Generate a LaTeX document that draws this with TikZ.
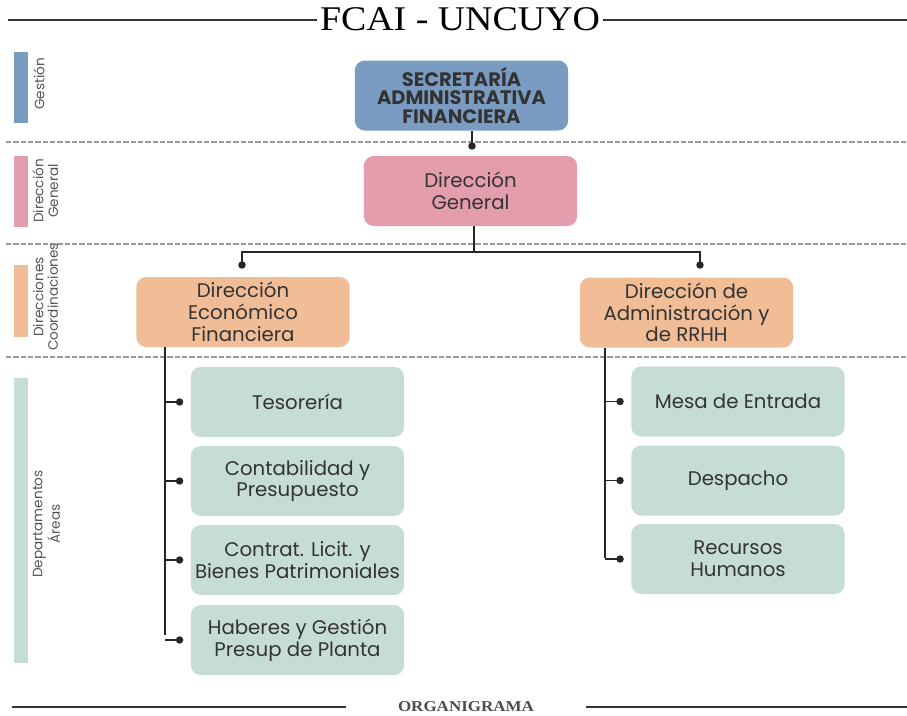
\documentclass[tikz,border=0pt]{standalone}
\usepackage{fontspec}
\setmainfont{Poppins}
\newfontfamily\serifhead{Liberation Serif}
\usetikzlibrary{calc}

\definecolor{gestion}{HTML}{7B9CC2}
\definecolor{dirgen}{HTML}{E39DAD}
\definecolor{dircoord}{HTML}{F1BD96}
\definecolor{depto}{HTML}{C6DDD3}
\definecolor{ink}{HTML}{333333}
\definecolor{sidetext}{HTML}{555555}
\definecolor{sepline}{HTML}{9A9A9A}

\tikzset{
  unitbox/.style={rounded corners=7.5pt, minimum width=160pt, minimum height=52.5pt,
    align=center, text=ink, inner sep=0pt, font=\fontsize{14.8}{16.3}\selectfont},
  topbox/.style={unitbox, fill=gestion, font=\bfseries\fontsize{14.6}{13.6}\selectfont},
  genbox/.style={unitbox, fill=dirgen},
  coordbox/.style={unitbox, fill=dircoord},
  deptbox/.style={unitbox, fill=depto},
  sidelabel/.style={rotate=90, align=center, text=sidetext, inner sep=0pt,
    font=\fontsize{10.2}{11}\selectfont},
  sepdash/.style={draw=sepline, line width=1.3pt, dash pattern=on 4pt off 1.5pt},
  link/.style={draw=black!85, line width=1.1pt},
  rule/.style={draw=black!80, line width=1.1pt},
  dotmark/.style={fill=black!85},
}

\begin{document}
\begin{tikzpicture}[x=0.75pt, y=-0.75pt]
  \useasboundingbox (0,0) rectangle (907,715);

  % heading and footer
  \node[inner sep=0pt, outer sep=2.5pt] (title) at (460,19.5)
    {\resizebox{210pt}{17.2pt}{\serifhead FCAI - UNCUYO}};
  \coordinate (tl) at (8,20);
  \coordinate (tr) at (907,20);
  \draw[rule] (tl) -- (tl -| title.west);
  \draw[rule] (title.east |- tr) -- (tr);

  \node[inner sep=0pt, text=black!70] (foot) at (466,707)
    {\resizebox{102pt}{7.5pt}{\serifhead\bfseries ORGANIGRAMA}};
  \coordinate (fl) at (12,707);
  \coordinate (fla) at (346,707);
  \coordinate (frb) at (586,707);
  \coordinate (fr) at (907,707);
  \draw[rule] (fl) -- (fla);
  \draw[rule] (frb) -- (fr);

  % level separators
  \draw[sepdash] (6,142) -- (907,142);
  \draw[sepdash] (6,244) -- (907,244);
  \draw[sepdash] (6,357) -- (907,357);

  % level markers on the left
  \fill[gestion]  (14,52)  rectangle (28,123);
  \fill[dirgen]   (14,156) rectangle (28,227);
  \fill[dircoord] (14,265) rectangle (28,337);
  \fill[depto]    (14,378) rectangle (28,663);
  \node[sidelabel] (lg) at (39,84) {Gestión};
  \node[sidelabel] (ld) at (45.5,191) {Dirección\\General};
  \node[sidelabel] (lc) at (45.5,297) {Direcciones\\Coordinaciones};
  \node[sidelabel] (la) at (46.5,524) {Departamentos\\Áreas};

  % boxes
  \node[topbox] (sec) at (461.5,95.5) {SECRETARÍA\\ADMINISTRATIVA\\FINANCIERA};
  \node[genbox] (dg) at (470.5,191) {Dirección\\General};
  \node[coordbox] (def) at (243,312) {Dirección\\Económico\\Financiera};
  \node[coordbox] (dar) at (686.5,312.5) {Dirección de\\Administración y\\de RRHH};

  \node[deptbox] (l1) at (297.5,402) {Tesorería};
  \node[deptbox] (l2) at (297.5,481) {Contabilidad y\\Presupuesto};
  \node[deptbox] (l3) at (297.5,560) {Contrat. Licit. y\\Bienes Patrimoniales};
  \node[deptbox] (l4) at (297.5,640) {Haberes y Gestión\\Presup de Planta};

  \node[deptbox] (r1) at (738,401.5) {Mesa de Entrada};
  \node[deptbox] (r2) at (738,480.5) {Despacho};
  \node[deptbox] (r3) at (738,559) {Recursos\\Humanos};

  % secretaría -> dirección general
  \coordinate (secdot) at (472,146);
  \draw[link] (sec.south -| secdot) -- (secdot);
  \fill[dotmark] (secdot) circle (2.8pt);

  % dirección general -> direcciones
  \coordinate (hub) at (474,252);
  \coordinate (lbend) at (242,252);
  \coordinate (rbend) at (700,252);
  \coordinate (ldot) at (242,265);
  \coordinate (rdot) at (700,265);
  \draw[link] (dg.south -| hub) -- (hub);
  \draw[link] (ldot) -- (lbend) -- (rbend) -- (rdot);
  \fill[dotmark] (ldot) circle (2.8pt);
  \fill[dotmark] (rdot) circle (2.8pt);

  % left branch
  \coordinate (ltrunk) at (165,635);
  \draw[link] (def.south -| ltrunk) -- (ltrunk);
  \foreach \b in {l1,l2,l3,l4}{
    \coordinate (\b dot) at ($(\b.west)+(-11,0)$);
    \draw[link] (\b dot -| ltrunk) -- (\b dot);
    \fill[dotmark] (\b dot) circle (2.8pt);
  }

  % right branch
  \coordinate (rtrunk) at (605,558);
  \draw[link] (dar.south -| rtrunk) -- (rtrunk);
  \foreach \b in {r1,r2,r3}{
    \coordinate (\b dot) at ($(\b.west)+(-11,0)$);
    \draw[link] (\b dot -| rtrunk) -- (\b dot);
    \fill[dotmark] (\b dot) circle (2.8pt);
  }
\end{tikzpicture}
\end{document}
